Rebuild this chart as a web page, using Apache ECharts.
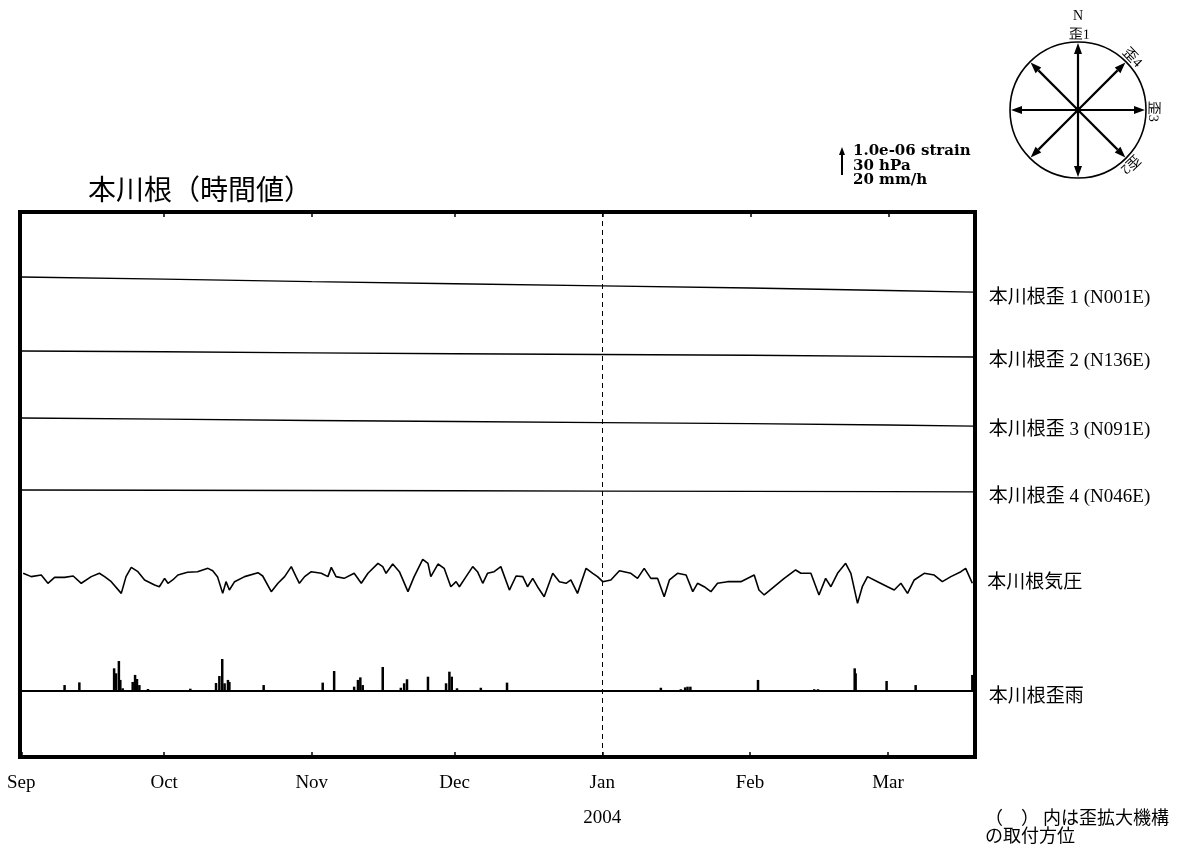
<!DOCTYPE html>
<html>
<head>
<meta charset="utf-8">
<script src="https://cdn.jsdelivr.net/npm/echarts@6/dist/echarts.min.js"></script>
<style>
  html, body { margin: 0; padding: 0; background: #fff; }
  #chart { width: 1187px; height: 855px; }
</style>
</head>
<body>
<div id="chart"></div>
<script>
// ---- data -------------------------------------------------------------
// days counted from 2003-09-01 00:00
const monthNames = ['Jan', 'Feb', 'Mar', 'Apr', 'May', 'Jun', 'Jul', 'Aug', 'Sep', 'Oct', 'Nov', 'Dec'];

// strain records (units of 1e-6 strain, relative to the first sample)
const strainDay = [0, 30, 61, 91, 122, 153, 182, 200];
const strain1 = [0, -0.08, -0.17, -0.25, -0.33, -0.41, -0.50, -0.56];
const strain2 = [0, -0.03, -0.07, -0.10, -0.13, -0.16, -0.20, -0.22];
const strain3 = [0, -0.04, -0.09, -0.13, -0.17, -0.21, -0.26, -0.30];
const strain4 = [0, -0.01, -0.02, -0.03, -0.04, -0.05, -0.06, -0.07];

// barometric pressure (hPa)
const pressureDay = [
  0.4, 2.1, 4.2, 5.6, 7.0, 9.1, 10.9, 12.6, 14.7, 16.4, 17.5, 18.9, 21.0, 22.0, 23.1,
  24.5, 25.9, 28.0, 29.0, 30.1, 30.8, 31.8, 32.9, 34.9, 37.0, 39.2, 40.2, 41.2, 42.3, 43.0,
  43.7, 44.8, 46.9, 49.7, 50.7, 52.5, 53.9, 55.3, 56.7, 57.7, 58.4, 59.5, 60.9, 63.0, 64.4,
  65.1, 66.1, 67.8, 69.9, 71.4, 72.8, 74.9, 75.9, 76.6, 78.0, 79.4, 81.2, 82.5, 84.3, 85.4,
  86.0, 87.5, 88.8, 90.2, 91.3, 92.0, 93.4, 94.8, 95.8, 96.9, 97.9, 99.3, 100.7, 102.5,
  103.9, 105.3, 106.3, 107.4, 108.4, 109.8, 111.6, 113.0, 114.4, 115.4, 116.8, 118.6, 120.0,
  121.0, 122.1, 123.8, 125.6, 128.0, 129.4, 130.8, 132.2, 133.6, 135.0, 136.1, 137.8, 139.6,
  141.0, 142.0, 143.4, 144.8, 146.2, 148.3, 151.1, 153.9, 154.9, 156.0, 158.1, 160.2, 162.6,
  163.7, 165.8, 167.5, 168.9, 170.0, 171.4, 173.1, 174.2, 175.6, 176.6, 177.7, 179.8, 181.9,
  183.3, 184.7, 186.1, 187.5, 189.6, 191.7, 193.4, 195.2, 197.3, 198.3, 199.7
];
const pressureHpa = [
  1016.0, 1012.3, 1014.1, 1004.9, 1011.5, 1011.5, 1013.0, 1004.9, 1012.3, 1016.0, 1012.3, 1006.7, 993.7, 1012.3, 1022.6,
  1017.8, 1008.6, 1003.0, 1001.1, 1010.4, 1004.9, 1008.6, 1014.1, 1017.1, 1017.8, 1021.5, 1018.9, 1012.3, 993.7, 1006.7,
  997.4, 1006.7, 1012.3, 1016.7, 1013.0, 995.6, 1004.9, 1012.3, 1023.4, 1012.3, 1004.9, 1012.3, 1017.8, 1016.0, 1012.3,
  1022.6, 1012.3, 1010.4, 1016.0, 1004.9, 1016.0, 1027.1, 1023.4, 1016.0, 1026.3, 1017.8, 995.6, 1012.3, 1031.5, 1027.1,
  1012.3, 1026.3, 1021.5, 1001.1, 1006.7, 1001.1, 1012.3, 1023.4, 1017.8, 1004.9, 1016.0, 1017.8, 1023.4, 997.4,
  1013.0, 1012.3, 1001.1, 1010.4, 1001.1, 990.0, 1016.0, 1006.7, 1004.9, 1008.6, 993.7, 1021.5, 1016.0,
  1012.3, 1006.7, 1008.6, 1018.9, 1016.0, 1010.4, 1021.5, 1010.4, 1010.4, 990.0, 1008.6, 1016.0, 1014.1,
  995.6, 1004.9, 1001.1, 995.6, 1004.9, 1006.7, 1006.7, 1014.1, 997.4, 991.9, 1001.1, 1010.4, 1019.7,
  1016.0, 1016.0, 991.9, 1010.4, 1001.1, 1016.0, 1027.1, 1016.0, 982.6, 1001.1, 1012.3, 1006.7, 1001.1,
  997.4, 1004.9, 993.7, 1008.6, 1016.0, 1014.1, 1006.7, 1012.3, 1017.8, 1021.5, 1004.9
];

// hourly rainfall (mm/h), non-zero hours only
const rainDay = [
  9.1, 12.2, 19.5, 19.9, 20.5, 20.8, 21.3, 23.4, 23.9, 24.3, 24.8, 26.6, 35.5, 40.9, 41.6,
  42.2, 42.7, 43.4, 43.7, 46.8, 50.9, 57.7, 60.9, 63.3, 65.7, 69.9, 70.7, 71.2, 71.7, 75.9,
  79.7, 80.4, 81.0, 85.4, 89.2, 89.9, 90.4, 91.5, 96.5, 102.0, 134.3, 138.5, 139.4, 139.9, 140.5,
  154.7, 166.5, 167.3, 175.0, 175.2, 181.7, 187.8, 192.4, 199.7
];
const rainMm = [
  4.4, 6.4, 16.8, 13.1, 22.2, 8.2, 2.0, 6.7, 11.9, 8.9, 4.4, 1.5, 1.7, 5.9, 11.1,
  23.7, 5.7, 8.2, 6.7, 0.7, 4.4, 0.7, 0.7, 6.2, 14.8, 3.2, 8.2, 10.1, 4.4, 17.8,
  2.4, 5.7, 8.7, 10.6, 5.7, 14.3, 10.6, 2.0, 2.4, 6.2, 2.4, 1.3, 2.7, 3.2, 3.2,
  8.2, 1.3, 1.3, 16.8, 13.1, 7.4, 4.4, 0.7, 11.9
];

const seriesNames = ['本川根歪 1 (N001E)', '本川根歪 2 (N136E)', '本川根歪 3 (N091E)', '本川根歪 4 (N046E)', '本川根気圧', '本川根歪雨'];

// ---- layout -----------------------------------------------------------
const DAY = 86400000;
const START = new Date(2003, 8, 1).getTime();
const END = new Date(2004, 2, 19).getTime();
const NEW_YEAR = new Date(2004, 0, 1).getTime();
const GRID = { left: 20, top: 212, width: 955, height: 545 };
const SCALE_PX = 27;                // length of the scale arrow: 1e-6 strain / 30 hPa / 20 mm/h
const PX_STRAIN = SCALE_PX / 1;
const PX_HPA = SCALE_PX / 30;
const PX_MM = SCALE_PX / 20;

// each trace gets its own hidden y axis; place refValue at pixel row refY
function band(refValue, refY, pxPerUnit) {
  const max = refValue + (refY - GRID.top) / pxPerUnit;
  return { min: max - GRID.height / pxPerUnit, max: max };
}
const bands = [
  band(0, 277, PX_STRAIN),
  band(0, 351, PX_STRAIN),
  band(0, 418, PX_STRAIN),
  band(0, 490, PX_STRAIN),
  band(1013, 576, PX_HPA),
  band(0, 691, PX_MM)
];

const t = d => START + d * DAY;
const pairs = (days, vals) => days.map((d, i) => [t(d), vals[i]]);

const FONT_JP = '"Noto Sans CJK JP"';
const endLabel = (name, dy) => ({
  show: true,
  formatter: name,
  distance: 15,
  offset: [0, dy],
  color: '#000',
  fontSize: 19,
  fontFamily: '"Liberation Serif", "Noto Sans CJK JP"'
});

function lineSeries(idx, data, width, labelDy) {
  return {
    type: 'line',
    name: seriesNames[idx],
    xAxisIndex: 0,
    yAxisIndex: idx,
    data: data,
    showSymbol: false,
    symbol: 'none',
    silent: true,
    lineStyle: { color: '#000', width: width },
    endLabel: endLabel(seriesNames[idx], labelDy)
  };
}

const xAxisBase = {
  type: 'time',
  gridIndex: 0,
  min: START,
  max: END,
  splitNumber: 7,
  minInterval: 28 * DAY,
  maxInterval: 31 * DAY,
  axisLine: { show: false, onZero: false },
  axisTick: { show: true, inside: true, length: 5, lineStyle: { color: '#000', width: 1.5 } },
  splitLine: { show: false },
  minorTick: { show: false }
};

// ---- compass rose -----------------------------------------------------
const CX = 1078, CY = 110, R = 68;
const compass = [];
compass.push({ type: 'circle', shape: { cx: CX, cy: CY, r: R }, style: { fill: 'none', stroke: '#000', lineWidth: 1.6 } });
for (let k = 0; k < 8; k++) {
  const a = k * Math.PI / 4;
  const dx = Math.sin(a), dy = -Math.cos(a);
  const tipX = CX + dx * (R - 1), tipY = CY + dy * (R - 1);
  const baseX = CX + dx * (R - 12), baseY = CY + dy * (R - 12);
  compass.push({ type: 'line', shape: { x1: CX, y1: CY, x2: baseX, y2: baseY }, style: { stroke: '#000', lineWidth: 2.2 } });
  compass.push({
    type: 'polygon',
    shape: { points: [[tipX, tipY], [baseX - dy * 4, baseY + dx * 4], [baseX + dy * 4, baseY - dx * 4]] },
    style: { fill: '#000' }
  });
}
compass.push({ type: 'circle', shape: { cx: CX, cy: CY, r: 3 }, style: { fill: '#000' } });
compass.push({ type: 'text', x: CX, y: 16, style: { text: 'N', font: '14px "Liberation Serif"', fill: '#000', align: 'center', verticalAlign: 'middle' } });
[['歪1', 1], ['歪4', 46], ['歪3', 91], ['歪2', 136]].forEach(([label, az]) => {
  const a = az * Math.PI / 180;
  compass.push({
    type: 'text',
    x: CX + Math.sin(a) * 75,
    y: CY - Math.cos(a) * 75,
    rotation: -a,
    style: { text: label, font: '14px "Liberation Serif", "Noto Sans CJK JP"', fill: '#000', align: 'center', verticalAlign: 'middle' }
  });
});

// ---- chart ------------------------------------------------------------
const chart = echarts.init(document.getElementById('chart'), null, { renderer: 'canvas' });
chart.setOption({
  animation: false,
  backgroundColor: '#fff',
  grid: {
    left: GRID.left, top: GRID.top, width: GRID.width, height: GRID.height,
    show: true, borderColor: '#000', borderWidth: 4, backgroundColor: 'transparent'
  },
  xAxis: [
    Object.assign({}, xAxisBase, {
      position: 'bottom',
      axisLabel: {
        color: '#000',
        fontFamily: '"Liberation Serif"',
        fontSize: 19,
        lineHeight: 35,
        margin: 9,
        showMaxLabel: false,
        hideOverlap: false,
        formatter: v => {
          const d = new Date(v);
          const m = monthNames[d.getMonth()];
          return d.getMonth() === 0 ? m + '\n' + d.getFullYear() : m;
        }
      }
    }),
    Object.assign({}, xAxisBase, { position: 'top', axisLabel: { show: false } })
  ],
  yAxis: bands.map(b => ({ type: 'value', gridIndex: 0, show: false, min: b.min, max: b.max, splitLine: { show: false } })),
  series: [
    lineSeries(0, pairs(strainDay, strain1), 1.4, 6),
    lineSeries(1, pairs(strainDay, strain2), 1.4, 4),
    lineSeries(2, pairs(strainDay, strain3), 1.4, 4),
    lineSeries(3, pairs(strainDay, strain4), 1.4, 5),
    lineSeries(4, pairs(pressureDay, pressureHpa), 1.6, 0),
    {
      type: 'bar',
      name: 'rain',
      xAxisIndex: 0,
      yAxisIndex: 5,
      data: pairs(rainDay, rainMm),
      barWidth: 2.5,
      silent: true,
      itemStyle: { color: '#000' }
    },
    Object.assign(lineSeries(5, [[START, 0], [END, 0]], 2, 6), {
      markLine: {
        silent: true,
        symbol: 'none',
        label: { show: false },
        lineStyle: { color: '#000', type: [5, 4], width: 1 },
        data: [{ xAxis: NEW_YEAR }]
      }
    })
  ],
  graphic: [
    { type: 'text', x: 88, y: 175, style: { text: '本川根（時間値）', font: '28px ' + FONT_JP, fill: '#000' } },
    // scale bar
    { type: 'line', shape: { x1: 842, y1: 148 + SCALE_PX, x2: 842, y2: 152 }, style: { stroke: '#000', lineWidth: 2 } },
    { type: 'polygon', shape: { points: [[839, 155], [842, 147], [845, 155]] }, style: { fill: '#000' } },
    { type: 'text', x: 853, y: 144, style: { text: '1.0e-06 strain\n30 hPa\n20 mm/h', font: 'bold 15px "DejaVu Serif"', lineHeight: 14.5, fill: '#000' } },
    // footnote
    { type: 'text', x: 985, y: 808, style: { text: '（　） 内は歪拡大機構\nの取付方位', font: '18px ' + FONT_JP, lineHeight: 18, fill: '#000' } }
  ].concat(compass)
});
</script>
</body>
</html>
